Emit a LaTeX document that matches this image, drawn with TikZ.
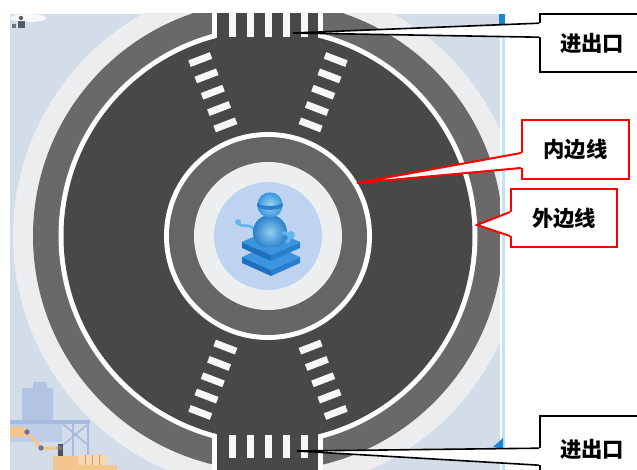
\documentclass[tikz,border=0pt]{standalone}
\usepackage{fontspec}
\newfontfamily\cjk{Noto Sans CJK SC}
\usetikzlibrary{calc}

\definecolor{panel}{HTML}{D3DDE9}
\definecolor{ringlight}{HTML}{EBEDEE}
\definecolor{ringgray}{HTML}{6A6868}
\definecolor{asphalt}{HTML}{4A4847}
\definecolor{hubgray}{HTML}{676565}
\definecolor{hublight}{HTML}{ECEEEF}
\definecolor{hubblue}{HTML}{BED3EF}
\definecolor{paint}{HTML}{F7F7F7}
\definecolor{bldg}{HTML}{B3C4E2}
\definecolor{frame}{HTML}{A6BBDF}
\definecolor{armorange}{HTML}{F2C68C}
\definecolor{cratecol}{HTML}{F7D8AE}
\definecolor{jointgray}{HTML}{6E7384}
\definecolor{robotlight}{HTML}{62B8EC}
\definecolor{robotmid}{HTML}{3A95DE}
\definecolor{robotdark}{HTML}{1E6FBF}
\definecolor{robotside}{HTML}{2A7FCC}
\definecolor{edgecyan}{HTML}{BFE3F7}
\definecolor{edgeblue}{HTML}{1C86D6}

\tikzset{
  lbl/.style={font=\cjk\fontsize{16}{19}\selectfont\bfseries, text=black,
    inner sep=0pt, fill=white},
  blackbox/.style={lbl, draw=black, line width=1.2pt},
  redbox/.style={lbl, draw=red, line width=1.5pt},
  blackptr/.style={draw=black, line width=1.2pt, line join=miter},
  redptr/.style={draw=red, line width=1.5pt, line join=miter},
  zebra/.style={fill=paint},
}

\begin{document}
\begin{tikzpicture}[x=0.75pt,y=-0.75pt]
\useasboundingbox (0,0) rectangle (637,470);
\clip (0,0) rectangle (637,470);

% background panel
\fill[panel] (10,14) rectangle (500,470);

\begin{scope}
\clip (10,14) rectangle (500,470);

% small emblem, top left
\fill[white, opacity=0.8] (28,18) ellipse [x radius=13.5pt, y radius=3pt];
\fill[jointgray!80!black] (21,18) circle [radius=1.6pt];
\fill[jointgray!80!black] (18,21) rectangle (25,28);
\fill[jointgray] (12,24) rectangle (16,28);

% factory scene, bottom left
\fill[bldg] (22,388) -- (33,388) -- (33,382) -- (47,382) -- (47,388) -- (53,388)
  -- (53,422) -- (22,422) -- cycle;
\fill[bldg!85!white] (10,424) rectangle (62,442);
\fill[frame] (10,420) rectangle (90,424);
\draw[frame, line width=1.2pt] (73,424) -- (73,470) (88,424) -- (88,455)
  (63,424) -- (88,445) (88,424) -- (63,445);
\fill[armorange] (10,427) rectangle (26,437);
\draw[armorange, line width=2.4pt, line join=round] (27,432) -- (41,448) -- (60,448);
\fill[jointgray!70!black] (58,444) rectangle (63,458);
\foreach \p in {(27,432),(41,448),(60,448),(60,460)}
  \fill[jointgray] \p circle [radius=2pt];
\fill[armorange] (53,456) rectangle (78,466);
\fill[cratecol] (78,455) rectangle (107,466);
\draw[armorange!80!black, line width=0.6pt] (85,455) -- (85,466) (92,455) -- (92,466)
  (99,455) -- (99,466);
\fill[armorange] (53,465) rectangle (117,470);

% roundabout rings
\fill[ringlight] (268,236) circle [radius=191.25pt];
\fill[ringgray] (268,236) circle [radius=176.25pt];
% entry roads (white kerb lines, then asphalt)
\fill[white] (212,0) rectangle (323,480);
\fill[white] (268,236) circle [radius=157.125pt];
\fill[asphalt] (268,236) circle [radius=153.375pt];
\fill[asphalt] (217,0) rectangle (318,480);

% zebra crossings on the entry roads
\foreach \x in {232,250,268,286,304} {
  \fill[zebra] (\x-3.5,0) rectangle (\x+3.5,37);
  \fill[zebra] (\x-3.5,435) rectangle (\x+3.5,458);
}
% zebra crossings on the ring
\foreach \a in {69,111,249,291}
  \foreach \r in {119,136.5,154,171.5,189}
    \fill[zebra, shift={(268,236)}, rotate=\a] (\r-3.5,-11.5) rectangle (\r+3.5,11.5);

% central island
\fill[white] (268,236) circle [radius=78pt];
\fill[hubgray] (268,236) circle [radius=74.25pt];
\fill[hublight] (268,236) circle [radius=55.5pt];
\fill[hubblue] (268,236) circle [radius=40.5pt];

% robot emblem
\draw[robotlight, line width=2pt, line cap=round]
  (254,229) .. controls (247,222) and (243,229) .. (238,223);
\fill[robotlight] (238,222) circle [radius=2.2pt];
% lower platform
\fill[robotdark] (242,257) -- (271,270) -- (271,276) -- (242,263) -- cycle;
\fill[robotside] (271,270) -- (300,257) -- (300,263) -- (271,276) -- cycle;
\fill[robotmid] (242,257) -- (271,244) -- (300,257) -- (271,270) -- cycle;
% upper platform
\fill[robotdark] (242,242) -- (271,255) -- (271,261) -- (242,248) -- cycle;
\fill[robotside] (271,255) -- (300,242) -- (300,248) -- (271,261) -- cycle;
\fill[robotmid] (242,242) -- (271,229) -- (300,242) -- (271,255) -- cycle;
% body
\begin{scope}
  \clip (240,200) rectangle (300,247);
  \shade[inner color=robotlight!70!white, outer color=robotside]
    (270,232) circle [radius=12.75pt];
\end{scope}
% head
\shade[inner color=robotlight!60!white, outer color=robotmid]
  (270,205) circle [radius=9.5pt];
\fill[robotside] (257.5,203) .. controls (262,207) and (278,207) .. (282.5,203)
  -- (282.8,206.5) .. controls (278,211) and (262,211) .. (257.2,206.5) -- cycle;
% right arm
\draw[robotlight, line width=2.4pt, line cap=round]
  (283,233) .. controls (290,233) and (293,237) .. (287,242);
\fill[robotlight] (291,235) circle [radius=3pt];
\end{scope}

% right edge of the panel
\fill[white] (500,14) rectangle (502,470);
\fill[edgecyan] (502,14) rectangle (505,470);
\fill[edgeblue] (499,14) rectangle (505,24);
\fill[edgeblue] (493,447) -- (503,438) -- (503,449) -- cycle;

% callout boxes
\node[blackbox, minimum width=78pt, minimum height=43.5pt] (topbox) at (592,43) {进出口};
\node[redbox, minimum width=80.25pt, minimum height=44.25pt] (innerbox) at (575.5,149.5) {内边线};
\node[redbox, minimum width=79.5pt, minimum height=43.5pt] (outerbox) at (564,218) {外边线};
\node[blackbox, minimum width=78pt, minimum height=49.5pt] (botbox) at (592,449) {进出口};

\coordinate (toptip) at (293,33);
\coordinate (innertip) at (357,183);
\coordinate (outertip) at (477,225);
\coordinate (bottip) at (297,451);

% pointers: white wedge opening into each box, then its two sides
\foreach \b/\t/\u/\v/\s in {topbox/toptip/10/24/blackptr,
    innerbox/innertip/34/49/redptr,
    outerbox/outertip/24/48/redptr,
    botbox/bottip/33/50/blackptr} {
  \fill[white] (\t) -- ($(\b.north west)+(0,\u)$) -- ($(\b.north west)+(4,\u)$)
    -- ($(\b.north west)+(4,\v)$) -- ($(\b.north west)+(0,\v)$) -- cycle;
  \draw[\s] ($(\b.north west)+(0,\u)$) -- (\t) -- ($(\b.north west)+(0,\v)$);
}
\end{tikzpicture}
\end{document}
